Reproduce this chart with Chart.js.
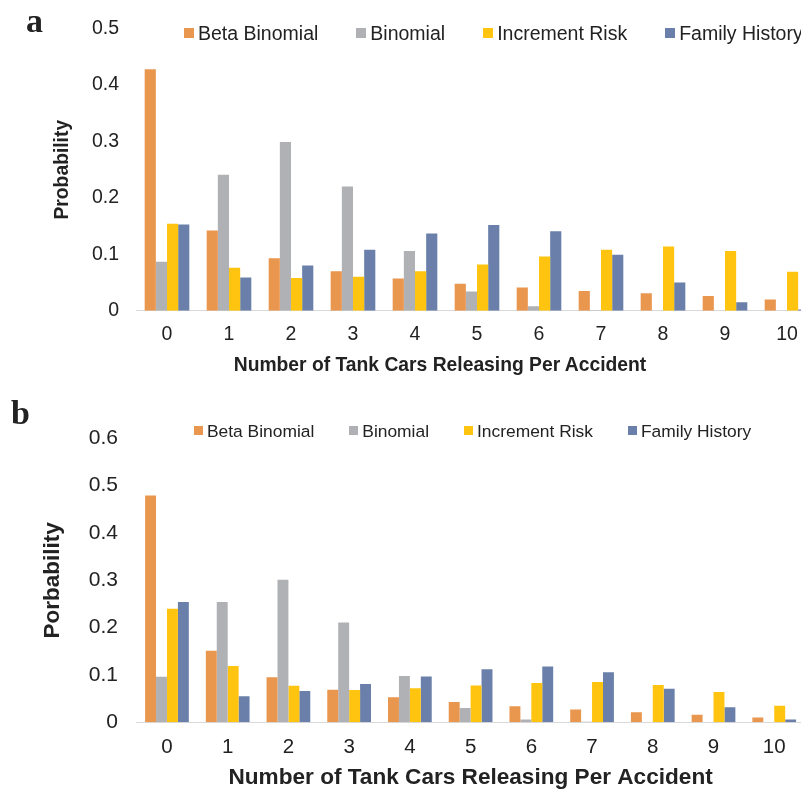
<!DOCTYPE html>
<html lang="en">
<head>
    <meta charset="UTF-8">
    <title>Tank Cars Releasing Per Accident</title>
    <script src="https://cdn.jsdelivr.net/npm/chart.js"></script>
    <style>
        * {
            margin: 0;
            padding: 0;
        }
        html, body {
            width: 801px;
            height: 789px;
            overflow: hidden;
            background: #fff;
        }
        body {
            position: relative;
            font-family: 'Liberation Sans', Arial, sans-serif;
            color: #222;
        }
        .panel {
            position: absolute;
            left: 0;
        }
        #panelA { top: 0; width: 840px; height: 395px; }
        #panelB { top: 395px; width: 830px; height: 394px; }
        .letter {
            position: absolute;
            font-family: 'Liberation Serif', 'Times New Roman', serif;
            font-weight: bold;
            font-size: 34px;
            line-height: 34px;
        }
        .legend {
            position: absolute;
            display: flex;
            align-items: center;
            white-space: nowrap;
            height: 20px;
            line-height: 20px;
        }
        .legend .item { display: flex; align-items: center; }
        .legend .box { display: inline-block; margin-right: 4px; }
        #legendA { left: 184px; top: 22.8px; font-size: 19.5px; }
        #legendA .box { width: 10px; height: 10px; }
        #legendA .item { margin-right: 38px; }
        #legendB { left: 194px; top: 420.7px; font-size: 17.4px; }
        #legendB .box { width: 9px; height: 9px; }
        #legendB .item { margin-right: 35px; }
        #xTitleA {
            position: absolute;
            left: 0;
            top: 355px;
            width: 880px;
            text-align: center;
            font-weight: bold;
            font-size: 19.3px;
            line-height: 20px;
            white-space: nowrap;
        }
    </style>
</head>
<body>
    <div class="panel" id="panelA"><canvas id="chartA"></canvas></div>
    <div class="panel" id="panelB"><canvas id="chartB"></canvas></div>
    <div class="letter" style="left:26px; top:3.5px;">a</div>
    <div class="letter" style="left:11px; top:396px;">b</div>
    <div class="legend" id="legendA"></div>
    <div class="legend" id="legendB"></div>
    <div id="xTitleA">Number of Tank Cars Releasing Per Accident</div>

    <script>
        const categories = ['0', '1', '2', '3', '4', '5', '6', '7', '8', '9', '10'];
        const seriesNames = ['Beta Binomial', 'Binomial', 'Increment Risk', 'Family History'];
        const seriesColors = ['#E9964F', '#B0B1B5', '#FFC40F', '#6A80AA'];

        // panel a
        const betaA      = [0.428, 0.142, 0.093, 0.070, 0.057, 0.048, 0.041, 0.035, 0.031, 0.026, 0.020];
        const binomialA  = [0.087, 0.241, 0.299, 0.220, 0.106, 0.034, 0.008, 0.001, 0, 0, 0];
        const incrementA = [0.154, 0.076, 0.058, 0.060, 0.070, 0.082, 0.096, 0.108, 0.114, 0.106, 0.069];
        const familyA    = [0.153, 0.059, 0.080, 0.108, 0.137, 0.152, 0.141, 0.099, 0.050, 0.015, 0.002];

        // panel b
        const betaB      = [0.479, 0.151, 0.095, 0.069, 0.053, 0.043, 0.034, 0.027, 0.021, 0.016, 0.010];
        const binomialB  = [0.096, 0.254, 0.301, 0.211, 0.098, 0.030, 0.006, 0.001, 0, 0, 0];
        const incrementB = [0.240, 0.119, 0.077, 0.068, 0.072, 0.078, 0.083, 0.085, 0.079, 0.064, 0.035];
        const familyB    = [0.254, 0.055, 0.066, 0.081, 0.097, 0.112, 0.118, 0.106, 0.071, 0.032, 0.006];

        const xTitle = 'Number of Tank Cars Releasing Per Accident';

        Chart.defaults.font.family = "'Liberation Sans', Arial, sans-serif";
        Chart.defaults.color = '#222';

        function buildLegend(id) {
            const el = document.getElementById(id);
            seriesNames.forEach((name, i) => {
                const item = document.createElement('span');
                item.className = 'item';
                const box = document.createElement('span');
                box.className = 'box';
                box.style.background = seriesColors[i];
                item.appendChild(box);
                item.appendChild(document.createTextNode(name));
                el.appendChild(item);
            });
        }
        buildLegend('legendA');
        buildLegend('legendB');

        function makeDatasets(series) {
            return series.map((data, i) => ({
                label: seriesNames[i],
                data: data,
                backgroundColor: seriesColors[i],
                borderWidth: 0,
                barPercentage: 1.0,
                categoryPercentage: 0.72
            }));
        }

        new Chart(document.getElementById('chartA'), {
            type: 'bar',
            data: {
                labels: categories,
                datasets: makeDatasets([betaA, binomialA, incrementA, familyA])
            },
            options: {
                responsive: true,
                maintainAspectRatio: false,
                animation: false,
                layout: { padding: { top: 28, right: 22, bottom: 0, left: 0 } },
                plugins: { legend: { display: false }, tooltip: { enabled: false } },
                scales: {
                    x: {
                        grid: { display: false, drawTicks: false },
                        border: { display: true, color: '#D9D9D9', width: 1 },
                        ticks: { font: { size: 19.5 }, padding: 12 },
                        afterFit: function(scale) { scale.height = 84.3; }
                    },
                    y: {
                        min: 0,
                        max: 0.5,
                        grid: { display: false, drawTicks: false },
                        border: { display: false },
                        ticks: { stepSize: 0.1, font: { size: 19.5 }, padding: 17 },
                        title: {
                            display: true,
                            text: 'Probability',
                            font: { size: 19.3, weight: 'bold', lineHeight: 1 },
                            padding: { top: 53.5, bottom: 0 }
                        },
                        afterFit: function(scale) { scale.width = 136; }
                    }
                }
            }
        });

        new Chart(document.getElementById('chartB'), {
            type: 'bar',
            data: {
                labels: categories,
                datasets: makeDatasets([betaB, binomialB, incrementB, familyB])
            },
            options: {
                responsive: true,
                maintainAspectRatio: false,
                animation: false,
                layout: { padding: { top: 43.3, right: 25.4, bottom: 0, left: 0 } },
                plugins: { legend: { display: false }, tooltip: { enabled: false } },
                scales: {
                    x: {
                        grid: { display: false, drawTicks: false },
                        border: { display: true, color: '#D9D9D9', width: 1 },
                        ticks: { font: { size: 20.5 }, padding: 13 },
                        title: {
                            display: true,
                            text: xTitle,
                            font: { size: 22.6, weight: 'bold', lineHeight: 1 },
                            padding: { top: 0, bottom: 0 }
                        },
                        afterFit: function(scale) { scale.height = 66.7; }
                    },
                    y: {
                        min: 0,
                        max: 0.6,
                        grid: { display: false, drawTicks: false },
                        border: { display: false },
                        ticks: { stepSize: 0.1, font: { size: 21 }, padding: 18.6 },
                        title: {
                            display: true,
                            text: 'Porbability',
                            font: { size: 22.5, weight: 'bold', lineHeight: 1 },
                            padding: { top: 41.8, bottom: 0 }
                        },
                        afterFit: function(scale) { scale.width = 136.6; }
                    }
                }
            }
        });
    </script>
</body>
</html>
